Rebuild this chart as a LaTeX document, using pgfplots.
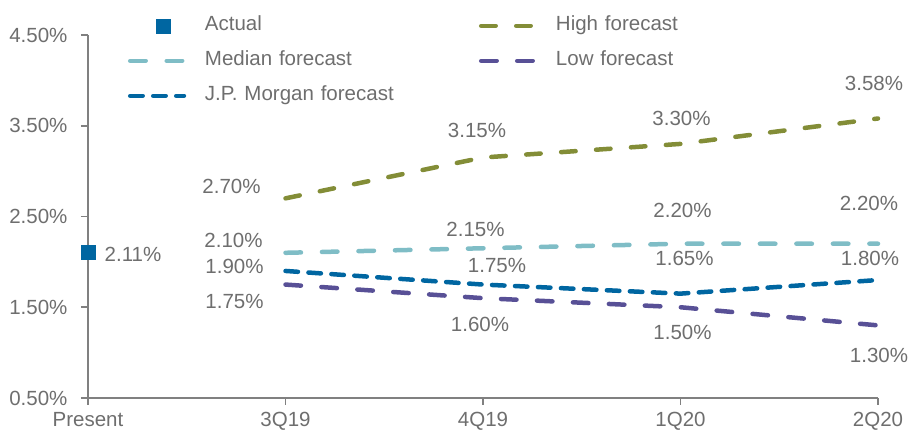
\documentclass[border=0pt]{standalone}
\usepackage{fontspec}
\setmainfont{Liberation Sans}
\usepackage{pgfplots}
\pgfplotsset{compat=1.18}
\definecolor{txtgray}{RGB}{110,110,110}
\definecolor{axgray}{RGB}{128,128,128}
\definecolor{highc}{RGB}{131,141,55}
\definecolor{medc}{RGB}{127,189,198}
\definecolor{jpmc}{RGB}{0,102,161}
\definecolor{lowc}{RGB}{88,80,150}
\tikzset{lbl/.style={text=txtgray, inner sep=0pt, anchor=center}}
\pgfplotsset{
  linelegend/.style={legend image code/.code={\path[draw=none] (0bp,0bp) -- (77bp,0bp); \draw[##1] (2.25bp,0bp) -- (56bp,0bp);}},
  sqlegend/.style={legend image code/.code={\path[draw=none] (0bp,0bp) -- (77bp,0bp); \draw[##1, only marks] plot coordinates {(35bp,0bp)};}},
}
\begin{document}
\begin{tikzpicture}[font=\fontsize{20.5bp}{24bp}\selectfont]
\useasboundingbox (-88bp,-35bp) rectangle (823bp,398bp);
\begin{axis}[
  scale only axis, width=790bp, height=363bp,
  xmin=0, xmax=4, ymin=0.5, ymax=4.5,
  clip=false,
  axis x line*=bottom, axis y line*=left,
  axis line style={draw=axgray, line width=1.6bp},
  tick align=outside, major tick length=7bp,
  tick style={draw=axgray, line width=1.6bp},
  xtick={0,1,2,3,4}, xticklabels={Present,3Q19,4Q19,1Q20,2Q20},
  ytick={0.5,1.5,2.5,3.5,4.5}, yticklabels={0.50\%,1.50\%,2.50\%,3.50\%,4.50\%},
  tick label style={text=txtgray, font=\fontsize{20.5bp}{24bp}\selectfont},
  xticklabel style={inner sep=0pt, yshift=-7bp},
  yticklabel style={xshift=-10bp},
  /pgf/number format/assume math mode=true,
  legend columns=2,
  legend cell align=left,
  legend style={at={(0.0506,1.053)}, anchor=north west, draw=none, fill=none,
    inner sep=0pt, outer sep=0pt, row sep=15bp, column sep=0pt,
    font=\fontsize{20.5bp}{24bp}\selectfont,
    nodes={inner sep=0pt, text height=15bp, text depth=5bp, text width=274bp, text=txtgray}},
  linelegend,
]
\addplot[only marks, mark=square*, mark size=7bp, color=jpmc, sqlegend]
  coordinates {(0,2.11)};
\addlegendentry{Actual}
\addplot[highc, line width=4.5bp, line cap=round, dash pattern=on 14.5bp off 20.5bp]
  coordinates {(1,2.70) (2,3.15) (3,3.30) (4,3.58)};
\addlegendentry{High forecast}
\addplot[medc, line width=4.5bp, line cap=round, dash pattern=on 15.5bp off 21bp]
  coordinates {(1,2.10) (2,2.15) (3,2.20) (4,2.20)};
\addlegendentry{Median forecast}
\addplot[lowc, line width=4.5bp, line cap=round, dash pattern=on 15.5bp off 20.5bp]
  coordinates {(1,1.75) (2,1.60) (3,1.50) (4,1.30)};
\addlegendentry{Low forecast}
\addplot[jpmc, line width=4.5bp, line cap=round, dash pattern=on 12.5bp off 10.5bp]
  coordinates {(1,1.90) (2,1.75) (3,1.65) (4,1.80)};
\addlegendentry{J.P. Morgan forecast}

% data labels
\node[lbl, xshift=45bp, yshift=-3bp] at (axis cs:0,2.11) {2.11\%};
\node[lbl, xshift=-54bp, yshift=12.4bp] at (axis cs:1,2.70) {2.70\%};
\node[lbl, xshift=-6bp, yshift=27.5bp] at (axis cs:2,3.15) {3.15\%};
\node[lbl, xshift=1bp, yshift=25bp] at (axis cs:3,3.30) {3.30\%};
\node[lbl, xshift=-4bp, yshift=35bp] at (axis cs:4,3.58) {3.58\%};
\node[lbl, xshift=-52bp, yshift=12.3bp] at (axis cs:1,2.10) {2.10\%};
\node[lbl, xshift=-7.5bp, yshift=19bp] at (axis cs:2,2.15) {2.15\%};
\node[lbl, xshift=2bp, yshift=33bp] at (axis cs:3,2.20) {2.20\%};
\node[lbl, xshift=-9bp, yshift=40bp] at (axis cs:4,2.20) {2.20\%};
\node[lbl, xshift=-51bp, yshift=4.5bp] at (axis cs:1,1.90) {1.90\%};
\node[lbl, xshift=14bp, yshift=18.6bp] at (axis cs:2,1.75) {1.75\%};
\node[lbl, xshift=4bp, yshift=35.6bp] at (axis cs:3,1.65) {1.65\%};
\node[lbl, xshift=-8bp, yshift=22bp] at (axis cs:4,1.80) {1.80\%};
\node[lbl, xshift=-51bp, yshift=-17.4bp] at (axis cs:1,1.75) {1.75\%};
\node[lbl, xshift=-3bp, yshift=-26bp] at (axis cs:2,1.60) {1.60\%};
\node[lbl, xshift=2bp, yshift=-25bp] at (axis cs:3,1.50) {1.50\%};
\node[lbl, xshift=1bp, yshift=-30bp] at (axis cs:4,1.30) {1.30\%};
\end{axis}
\end{tikzpicture}
\end{document}
